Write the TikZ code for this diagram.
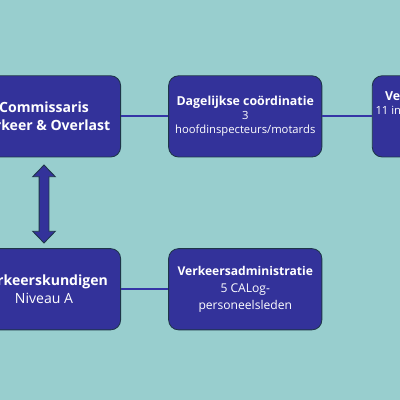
\documentclass[tikz,border=0pt]{standalone}
\usepackage{fontspec}
\setmainfont{Open Sans}
\usepackage{tikz}
\usetikzlibrary{positioning,shapes.arrows}
\usepackage{xcolor}
\definecolor{bgteal}{HTML}{98CECE}
\definecolor{boxblue}{HTML}{33329A}
\definecolor{boxedge}{HTML}{1E3548}
\definecolor{linkblue}{HTML}{3535A6}
\tikzset{
  unit/.style    = {draw=boxedge, line width=0.6pt, fill=boxblue, rounded corners=7pt,
                    minimum width=3.83cm, minimum height=2.03cm, align=center,
                    text=white, inner sep=2pt},
  bigunit/.style = {unit, font=\fontsize{10}{12.8}\selectfont},
  smallunit/.style = {unit, font=\fontsize{8}{9.9}\selectfont},
  midunit/.style = {unit, font=\fontsize{8.6}{12}\selectfont},
  link/.style    = {draw=linkblue, line width=1.4pt},
}
\newcommand{\unithead}[1]{{\fontsize{8.8}{9.9}\selectfont\textbf{#1}}}

\begin{document}
\begin{tikzpicture}[x=1cm,y=1cm]
\fill[bgteal] (0,0) rectangle (10,10);
\useasboundingbox (0,0) rectangle (10,10);
\clip (0,0) rectangle (10,10);
\node[bigunit] (comm) at (1.1,7.09) {\textbf{Commissaris}\\\textbf{Verkeer \& Overlast}};
\node[smallunit, right=1.18cm of comm] (dagel) {\unithead{Dagelijkse coördinatie}\\3\\hoofdinspecteurs/motards};
\node[smallunit, right=1.24cm of dagel] (insp) {\unithead{Verkeershandhaving}\\11 inspecteurs/motorrijders\\\mbox{}\\\mbox{}};
\node[bigunit, below=2.27cm of comm] (kund) {\textbf{Verkeerskundigen}\\Niveau A};
\node[midunit, right=1.18cm of kund] (admin) {\textbf{Verkeersadministratie}\\5 CALog-\\personeelsleden};
\node[double arrow, rotate=90, draw=boxedge, line width=0.6pt, fill=boxblue,
      minimum height=1.95cm, inner xsep=0pt, inner ysep=0.1125cm,
      double arrow head extend=0.16cm, double arrow tip angle=88] (updown) at (1.1,4.9) {};
\draw[link] (comm) -- (dagel);
\draw[link] (dagel) -- (insp);
\draw[link] (kund) -- (admin);
\end{tikzpicture}
\end{document}
